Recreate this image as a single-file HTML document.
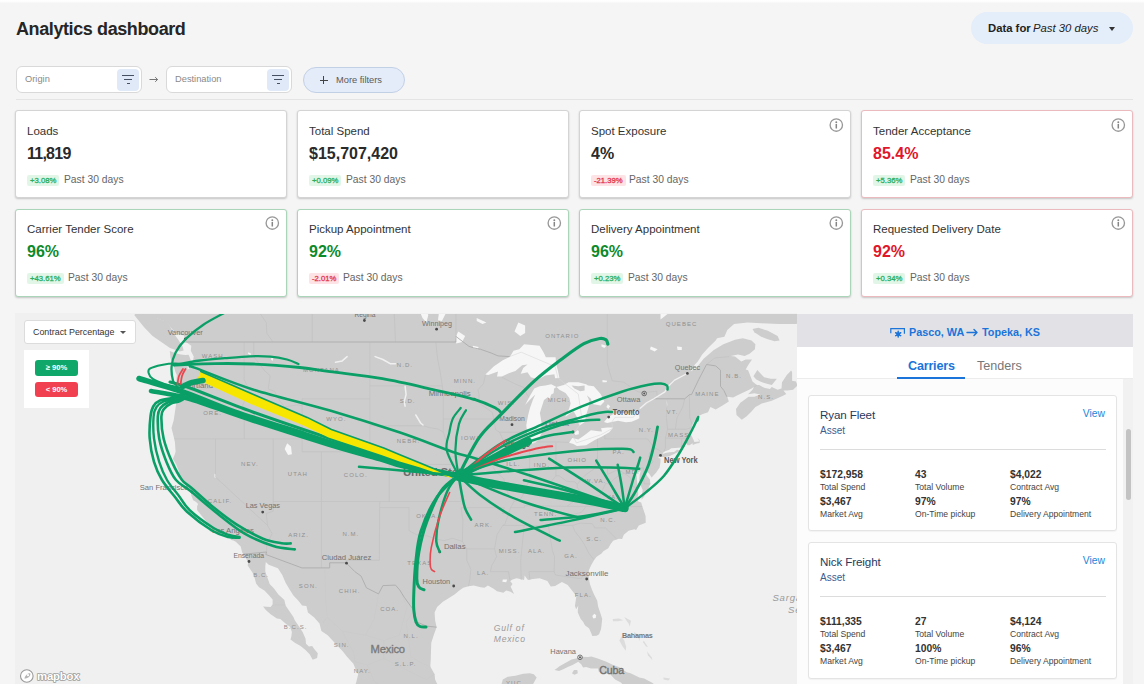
<!DOCTYPE html>
<html>
<head>
<meta charset="utf-8">
<title>Analytics dashboard</title>
<style>
*{box-sizing:border-box;margin:0;padding:0}
html,body{width:1144px;height:684px;overflow:hidden;background:#f5f5f5;font-family:"Liberation Sans",sans-serif;color:#2a2a2a}
.abs{position:absolute}
#title{left:16px;top:17px;font-size:18px;font-weight:bold;color:#262626;letter-spacing:-0.4px;line-height:24px;white-space:nowrap}
#range{left:971px;top:12px;width:162px;height:32px;border-radius:16px;background:#e4edfa;font-size:11.3px;line-height:33px;color:#222;white-space:nowrap}
#range b{position:absolute;left:17px;top:0;font-weight:bold}
#range i{position:absolute;left:62px;top:0}
#range .car{position:absolute;left:138px;top:15px;width:0;height:0;border-left:3.5px solid transparent;border-right:3.5px solid transparent;border-top:4px solid #333}
.inp{top:66px;height:27px;width:126px;background:#fff;border:1px solid #d9d9d9;border-radius:6px;font-size:9.3px;color:#8a8a8a;line-height:25px;padding-left:8px}
.inp .fb{position:absolute;right:2px;top:1.5px;width:22px;height:22px;border-radius:4px;background:#dfe9f8}
.inp .fb span{position:absolute;left:5px;height:1.4px;background:#465164}
#arrow{left:148px;top:71px;font-size:11px;color:#666;line-height:16px}
#more{left:303px;top:67px;width:102px;height:26px;border-radius:13px;background:#e4ecf9;border:1px solid #c2d0e6;font-size:9.3px;color:#5a5a5a;line-height:24px;white-space:nowrap}
#divider{left:16px;top:99px;width:1117px;height:1px;background:#e4e4e4}
.card{background:#fff;border:1px solid #d4d4d4;border-radius:3px;box-shadow:0 1px 2px rgba(0,0,0,.2);width:272px;height:88px}
.card.g{border-color:#abd5b9}
.card.r{border-color:#ebbabf}
.card .t{position:absolute;left:11px;top:13px;font-size:11.5px;line-height:14px;color:#333;white-space:nowrap}
.card .v{position:absolute;left:11px;top:33px;font-size:16px;line-height:20px;font-weight:bold;color:#2a2a2a;white-space:nowrap}
.card .v.n1{letter-spacing:-0.75px}
.card.g .v{color:#0d8a2c}
.card.r .v{color:#e0162b}
.card .b{position:absolute;left:11px;top:64px;height:11px;padding:0 3px;border-radius:2px;font-size:7.7px;line-height:11px;font-weight:normal;-webkit-text-stroke:0.3px currentColor;letter-spacing:0;white-space:nowrap}
.b.up{background:#e2f6e8;color:#2cae5c}
.b.dn{background:#fde3e5;color:#e3384a}
.card .p{position:absolute;top:62px;font-size:10.3px;line-height:14px;color:#666;white-space:nowrap}
.card.r2 .t,.card.r2 .v,.card.r2 .b,.card.r2 .p,.card.r2 .i{margin-top:-1px}
.card .i{position:absolute;right:6px;top:7px;width:15px;height:15px}

#panel{font-size:10px}
#ph{left:0;top:0;width:336px;height:33px;background:#e2e2e6}
#ph .tx{position:absolute;top:11px;font-size:10.8px;line-height:14px;font-weight:bold;color:#1b74da;white-space:nowrap}
#tabs{left:0;top:33px;width:336px;height:32px;background:#fff;border-bottom:1px solid #ececec}
#tabs .c{position:absolute;left:111px;top:11px;font-size:12.6px;line-height:16px;font-weight:bold;color:#1b74da;letter-spacing:-0.2px}
#tabs .n{position:absolute;left:180px;top:11px;font-size:12.6px;line-height:16px;color:#777}
#tabs .u{position:absolute;left:100px;top:30px;width:68px;height:2px;background:#1b74da}
#list{left:0;top:65px;width:326px;height:305px;background:#fcfcfc}
#track{left:326px;top:65px;width:10px;height:305px;background:#f1f1f1}
#thumb{left:328.5px;top:115px;width:5.5px;height:71px;border-radius:3px;background:#c3c3c3}
.cc{left:11px;width:309px;height:136px;background:#fff;border:1px solid #e4e4e4;border-radius:3px;box-shadow:0 1px 1px rgba(0,0,0,.04)}
.cc .nm{position:absolute;left:11px;top:11px;font-size:11.6px;line-height:16px;color:#243a5e;white-space:nowrap;letter-spacing:-0.1px}
.cc .as{position:absolute;left:11px;top:28px;font-size:10px;line-height:13px;color:#3d5d8f;white-space:nowrap}
.cc .vw{position:absolute;right:11px;top:11px;font-size:10.3px;line-height:14px;color:#1a86d9;white-space:nowrap}
.cc .hr{position:absolute;left:11px;right:10px;top:53px;height:1px;background:#dcdcdc}
.cc .k{position:absolute;font-size:10.3px;line-height:12px;font-weight:bold;color:#333;white-space:nowrap}
.cc .l{position:absolute;font-size:8.6px;line-height:11px;color:#444;white-space:nowrap}
</style>
</head>
<body>
<div id="topstrip" class="abs" style="left:0;top:0;width:1144px;height:3px;background:linear-gradient(#ffffff,#fdfdfd 60%,#f5f5f5)"></div>
<div id="title" class="abs">Analytics dashboard</div>
<div id="range" class="abs"><b>Data for</b><i>Past 30 days</i><span class="car"></span></div>

<div class="abs inp" style="left:16px">Origin<div class="fb"><span style="top:6px;width:12px"></span><span style="top:10px;left:7px;width:8px"></span><span style="top:14px;left:9.5px;width:3px"></span></div></div>
<svg id="arrow" class="abs" style="left:149px;top:76px" width="10" height="7" viewBox="0 0 10 7"><path d="M0.5 3.5h8M6.2 1.2l2.4 2.3-2.4 2.3" fill="none" stroke="#666" stroke-width="0.9"/></svg>
<div class="abs inp" style="left:166px">Destination<div class="fb"><span style="top:6px;width:12px"></span><span style="top:10px;left:7px;width:8px"></span><span style="top:14px;left:9.5px;width:3px"></span></div></div>
<div id="more" class="abs"><span style="position:absolute;left:15.5px;top:11.5px;width:8px;height:1.1px;background:#444"></span><span style="position:absolute;left:19px;top:8px;width:1.1px;height:8px;background:#444"></span><span style="position:absolute;left:32px">More filters</span></div>
<div id="divider" class="abs"></div>

<!-- CARDS -->
<div class="abs card" style="left:15px;top:110px"><div class="t">Loads</div><div class="v n1">11,819</div><div class="b up">+3.08%</div><div class="p" style="left:48px">Past 30 days</div></div>
<div class="abs card" style="left:297px;top:110px"><div class="t">Total Spend</div><div class="v">$15,707,420</div><div class="b up">+0.09%</div><div class="p" style="left:48px">Past 30 days</div></div>
<div class="abs card" style="left:579px;top:110px"><div class="t">Spot Exposure</div><svg class="i" viewBox="0 0 15 15"><circle cx="7.3" cy="7" r="6.2" fill="none" stroke="#989898" stroke-width="1.35"/><circle cx="7.3" cy="4.2" r="0.95" fill="#858585"/><rect x="6.55" y="6" width="1.5" height="4.5" fill="#858585"/></svg><div class="v">4%</div><div class="b dn">-21.39%</div><div class="p" style="left:49px">Past 30 days</div></div>
<div class="abs card r" style="left:861px;top:110px"><div class="t">Tender Acceptance</div><svg class="i" viewBox="0 0 15 15"><circle cx="7.3" cy="7" r="6.2" fill="none" stroke="#989898" stroke-width="1.35"/><circle cx="7.3" cy="4.2" r="0.95" fill="#858585"/><rect x="6.55" y="6" width="1.5" height="4.5" fill="#858585"/></svg><div class="v">85.4%</div><div class="b up">+5.36%</div><div class="p" style="left:48px">Past 30 days</div></div>

<div class="abs card g r2" style="left:15px;top:209px"><div class="t">Carrier Tender Score</div><svg class="i" viewBox="0 0 15 15"><circle cx="7.3" cy="7" r="6.2" fill="none" stroke="#989898" stroke-width="1.35"/><circle cx="7.3" cy="4.2" r="0.95" fill="#858585"/><rect x="6.55" y="6" width="1.5" height="4.5" fill="#858585"/></svg><div class="v">96%</div><div class="b up">+43.61%</div><div class="p" style="left:52px">Past 30 days</div></div>
<div class="abs card g r2" style="left:297px;top:209px"><div class="t">Pickup Appointment</div><svg class="i" viewBox="0 0 15 15"><circle cx="7.3" cy="7" r="6.2" fill="none" stroke="#989898" stroke-width="1.35"/><circle cx="7.3" cy="4.2" r="0.95" fill="#858585"/><rect x="6.55" y="6" width="1.5" height="4.5" fill="#858585"/></svg><div class="v">92%</div><div class="b dn">-2.01%</div><div class="p" style="left:45px">Past 30 days</div></div>
<div class="abs card g r2" style="left:579px;top:209px"><div class="t">Delivery Appointment</div><svg class="i" viewBox="0 0 15 15"><circle cx="7.3" cy="7" r="6.2" fill="none" stroke="#989898" stroke-width="1.35"/><circle cx="7.3" cy="4.2" r="0.95" fill="#858585"/><rect x="6.55" y="6" width="1.5" height="4.5" fill="#858585"/></svg><div class="v">96%</div><div class="b up">+0.23%</div><div class="p" style="left:48px">Past 30 days</div></div>
<div class="abs card r r2" style="left:861px;top:209px"><div class="t">Requested Delivery Date</div><svg class="i" viewBox="0 0 15 15"><circle cx="7.3" cy="7" r="6.2" fill="none" stroke="#989898" stroke-width="1.35"/><circle cx="7.3" cy="4.2" r="0.95" fill="#858585"/><rect x="6.55" y="6" width="1.5" height="4.5" fill="#858585"/></svg><div class="v">92%</div><div class="b up">+0.34%</div><div class="p" style="left:48px">Past 30 days</div></div>

<!-- MAP -->
<div id="map" class="abs" style="left:15px;top:313px;width:782px;height:371px;background:#f0f0f0;overflow:hidden">
<div class="abs" style="left:1px;top:1px;width:781px;height:370px">
<svg class="abs" style="left:0;top:0" width="781" height="370" viewBox="0 0 781 370">
<g fill="#cdcdcd" stroke="none">
<path d="M122.1 -17.7L125.0 -5.2L131.8 -0.6L139.5 4.0L148.2 7.0L153.1 11.6L156.9 16.1L161.8 20.6L167.6 21.3L169.0 23.5L170.0 28.0L175.3 31.7L174.8 36.8L177.7 42.6L176.8 48.3L175.8 53.1L171.4 55.8L171.9 51.2L174.3 51.9L174.8 46.2L173.4 42.6L172.6 40.7L169.5 41.1L164.7 40.4L158.9 39.0L153.8 37.1L154.5 44.0L157.9 52.6L159.3 57.6L160.8 61.1L160.3 67.5L161.1 77.9L160.1 90.2L157.7 106.3L155.5 113.9L158.2 124.8L158.9 128.0L159.6 137.7L158.9 140.3L156.9 144.8L160.3 150.4L162.7 156.7L163.7 163.0L168.1 169.2L170.0 171.6L170.5 175.3L172.9 175.9L175.3 177.5L175.8 176.5L177.2 174.7L177.2 177.8L178.7 181.4L176.3 180.2L175.3 178.8L175.3 181.4L177.2 186.3L180.1 188.0L182.1 189.9L181.1 192.3L181.1 196.0L187.2 203.7L192.2 209.7L193.2 216.1L195.0 217.9L202.4 218.5L207.0 221.4L211.1 222.8L214.0 223.2L215.0 226.1L217.4 226.4L219.8 227.8L224.7 232.5L226.1 238.2L227.4 240.5L232.2 248.0L231.7 251.4L237.2 259.8L238.7 264.3L240.1 269.4L243.0 273.3L248.4 276.6L252.7 281.0L256.6 285.5L256.6 290.4L254.6 293.1L247.1 292.6L249.8 295.9L254.6 300.2L260.9 304.6L264.3 305.1L270.1 310.0L274.0 312.7L275.9 318.0L275.4 322.3L274.5 325.5L278.8 328.7L284.6 331.9L289.5 336.1L293.8 340.4L296.7 345.8L301.1 344.0L301.8 339.3L298.2 335.1L296.2 331.9L292.9 332.4L290.0 329.8L289.5 324.4L286.6 318.0L283.2 312.7L278.8 306.2L277.4 302.9L274.0 298.0L269.6 291.5L268.4 286.0L262.4 280.5L258.0 274.4L253.7 269.9L251.3 263.2L249.3 257.6L249.3 251.9L249.8 248.0L252.7 250.8L261.9 254.2L266.3 261.0L269.6 268.8L273.0 274.4L277.4 281.6L282.2 286.6L286.1 291.5L290.4 292.0L291.9 298.6L298.2 303.5L303.5 309.4L305.4 317.0L311.7 321.2L316.1 326.0L320.4 330.8L326.7 337.2L330.8 342.5L337.4 349.8L340.3 357.1L342.2 360.2L340.3 368.0L338.8 372.7L344.6 380.9L428.8 380.9L426.4 375.8L421.5 370.6L419.1 365.4L418.6 360.2L414.3 352.4L414.8 344.6L415.0 336.7L415.3 328.7L417.7 321.2L420.6 313.2L419.1 306.2L418.6 298.6L421.1 293.1L426.9 287.7L432.2 284.4L438.5 280.5L443.3 276.6L447.2 273.8L452.5 272.2L457.8 271.6L464.6 273.3L468.5 273.8L471.9 271.6L477.2 274.4L481.0 277.2L487.3 278.8L490.2 276.6L494.6 277.7L498.0 279.9L496.5 276.6L494.6 272.7L496.5 269.9L494.1 267.1L496.5 265.5L500.4 264.3L504.3 264.9L508.1 266.0L508.6 261.5L510.6 264.3L512.0 266.0L516.8 264.9L523.6 264.3L531.4 267.1L534.7 272.4L539.1 271.9L545.9 268.0L551.7 271.1L556.0 276.6L560.4 282.1L559.4 288.8L558.9 292.0L560.2 295.3L562.3 291.5L561.8 295.9L561.8 298.6L564.7 305.1L567.1 307.8L569.1 311.6L573.0 314.3L575.4 319.6L576.3 322.0L580.7 321.8L583.1 320.2L585.0 315.3L585.5 311.6L586.2 305.1L584.6 299.7L582.1 292.6L581.2 286.6L578.3 281.0L576.3 276.6L573.9 269.9L573.0 264.9L572.5 260.4L573.0 255.9L575.4 250.8L578.3 245.7L580.7 242.8L585.5 239.4L587.3 237.3L592.3 234.2L594.2 230.7L597.1 226.7L602.9 224.7L606.1 224.9L607.8 220.8L612.6 216.7L618.4 215.2L620.1 216.1L622.8 211.4L629.7 208.7L629.6 201.9L626.5 192.9L625.2 188.4L622.3 187.5L621.3 184.5L622.3 180.2L621.8 175.3L621.3 170.4L620.8 163.6L620.4 159.8L624.7 156.7L623.7 160.5L623.3 165.4L624.7 171.6L626.7 175.9L625.7 181.4L625.5 185.7L628.1 182.7L631.5 176.5L634.4 169.8L633.9 165.4L631.0 161.7L629.6 157.3L632.9 159.2L635.6 163.6L640.2 158.6L643.6 153.6L644.5 147.9L644.5 144.5L642.1 144.1L644.4 141.5L645.0 143.1L648.4 143.1L653.3 142.2L659.1 139.6L665.3 136.8L661.0 135.8L658.1 138.1L653.3 138.3L649.4 139.0L646.5 140.0L647.9 137.7L653.3 135.8L655.2 134.2L662.9 133.8L668.7 133.2L669.7 128.7L671.6 131.3L673.6 131.3L676.5 129.3L676.8 131.0L680.3 129.6L683.7 129.1L683.5 126.1L681.3 123.7L682.5 125.4L683.2 127.4L678.4 128.0L677.4 125.4L675.5 121.5L673.6 120.2L675.5 117.6L677.4 116.3L675.5 114.3L676.5 110.3L679.9 105.0L680.8 103.0L686.2 100.3L692.0 98.3L694.4 92.9L699.7 95.6L706.5 91.6L712.8 87.5L711.3 82.7L717.1 83.4L721.5 81.3L731.6 76.5L735.5 74.4L737.9 73.0L736.5 75.8L732.1 80.2L738.4 79.3L744.2 80.6L738.4 82.7L732.6 82.7L724.4 88.8L720.0 94.9L720.5 101.0L725.8 105.7L730.7 102.3L735.5 97.6L739.4 92.9L742.3 91.6L745.7 89.5L755.8 86.8L766.5 82.0L770.3 80.0L767.4 76.5L771.3 76.5L777.1 75.8L781.5 71.6L780.0 67.5L776.1 66.8L776.1 58.3L775.2 56.5L770.8 61.1L766.0 68.2L765.5 74.4L761.6 75.8L755.8 73.0L753.9 75.1L748.1 73.7L743.2 71.0L740.8 71.0L736.5 67.5L734.0 61.1L732.1 56.2L729.7 55.5L732.1 51.2L736.0 45.5L729.7 45.5L725.3 47.6L719.0 42.6L714.7 41.9L721.9 40.4L728.7 41.9L733.6 39.7L738.9 35.3L739.4 30.2L735.5 26.5L726.8 24.3L719.0 25.8L707.4 30.2L697.8 36.0L687.6 44.7L680.3 54.1L672.1 59.0L674.1 58.3L678.9 50.5L681.8 47.6L686.2 40.4L692.0 33.9L699.7 26.5L701.1 24.3L708.4 22.8L711.3 16.1L718.1 10.1L731.6 8.5L745.2 9.3L762.6 10.1L780.0 10.1L789.7 5.5L789.7 -17.7Z"/>
<path d="M118.2 0.9L123.1 7.0L127.9 13.1L136.6 22.1L145.3 28.0L154.0 33.9L163.7 37.5L167.6 36.5L166.6 32.4L161.8 25.0L157.9 19.8L154.0 12.3L149.2 7.0L140.5 4.0L132.7 -0.6L126.0 -5.2Z"/>
<path d="M736.5 15.0L742.3 13.8L751.9 16.8L761.6 22.1L763.6 26.5L758.7 27.2L751.0 25.0L745.2 22.8L738.4 18.3Z"/>
<path d="M737.4 62.3L741.3 56.0L748.1 63.3L754.8 64.7L760.9 64.7L755.8 71.0L750.0 69.6L744.2 67.5L740.3 65.4Z"/>
<path d="M538.6 356.1L543.9 351.9L555.5 345.6L562.3 344.0L566.2 342.8L572.0 343.0L575.4 342.5L581.7 344.6L590.4 347.7L597.1 350.9L602.9 352.9L610.7 358.2L614.6 359.2L623.3 363.4L628.1 364.4L635.8 368.5L641.6 372.7L643.1 374.7L639.7 380.9L605.8 380.9L606.8 370.6L604.9 368.5L599.1 365.4L594.2 360.2L588.4 359.2L582.6 357.6L582.1 354.5L574.9 354.5L570.1 352.9L567.1 353.5L565.2 350.3L562.3 347.7L556.5 350.9L551.7 352.9L547.8 355.0L543.0 357.1Z"/>
<path d="M558.0 356.1L561.3 356.1L561.8 359.2L558.4 360.8L556.0 359.2Z"/>
<path d="M483.0 380.9L485.4 370.6L486.8 365.4L491.7 362.8L499.4 361.8L507.2 359.7L513.9 359.2L517.8 360.2L520.7 363.4L516.8 370.6L513.9 380.9Z"/>
</g>
<g fill="#dcdcdc" stroke="none">
<path d="M605.4 322.3L608.3 326.6L610.2 333.0L609.7 336.7L606.3 331.9L603.4 326.6Z"/>
<path d="M596.7 305.1L602.9 304.6L607.3 306.2L602.0 307.3L597.1 307.3Z"/>
<path d="M608.3 302.9L615.0 306.7L613.6 312.7L612.6 309.4L610.2 306.2Z"/>
<path d="M618.4 318.0L623.7 322.3L623.7 327.1L622.3 323.4L617.9 319.6Z"/>
<path d="M627.6 326.6L632.0 333.0L630.0 332.4L627.1 328.2Z"/>
<path d="M631.0 337.2L635.8 343.5L636.3 346.1L632.0 341.4Z"/>
<path d="M647.5 363.4L654.2 364.4L652.3 366.5L647.5 365.4Z"/>
</g>
<g fill="#f6f6f6" stroke="none">
<path d="M469.4 60.4L477.7 52.6L486.8 46.2L494.1 42.6L497.5 36.8L503.3 35.3L508.1 30.2L515.9 30.9L523.6 31.7L527.5 38.2L529.9 43.3L539.6 43.3L540.1 49.8L542.0 56.9L543.4 64.0L539.1 64.2L538.4 60.2L529.4 61.6L522.2 65.4L514.9 63.3L511.5 58.3L504.7 59.7L507.2 54.1L511.5 50.5L506.2 51.2L499.4 56.9L491.7 59.7L485.9 62.5L481.0 62.5L482.0 57.6L472.3 61.1Z"/>
<path d="M515.9 129.7L513.0 126.1L511.0 118.2L510.3 111.0L512.0 101.7L513.9 94.3L516.8 86.1L519.3 80.6L514.9 84.8L509.1 90.9L513.0 83.4L518.3 74.4L523.6 72.3L529.4 71.6L535.2 70.3L540.5 73.0L538.1 74.4L537.6 79.3L535.2 80.6L532.8 87.5L532.3 82.7L528.0 86.1L525.1 94.9L523.9 99.0L525.5 108.3L525.5 119.6L522.6 125.4L519.7 128.4Z"/>
<path d="M540.5 73.0L547.8 71.0L552.6 68.2L562.3 68.2L570.1 70.3L572.0 71.6L577.8 72.3L584.6 80.0L588.4 87.5L584.6 91.6L577.5 90.2L575.9 88.2L574.9 84.8L570.8 81.3L572.5 84.8L573.9 89.5L573.1 91.6L569.9 101.7L569.1 107.7L563.3 111.7L561.3 103.7L557.8 97.4L554.6 99.0L549.3 103.0L551.2 98.3L553.1 94.7L554.6 89.5L553.3 83.9L549.5 79.0L543.4 75.8Z"/>
<path d="M553.1 128.7L556.3 124.1L562.3 125.4L568.1 121.5L574.9 116.3L582.6 117.2L586.0 117.6L585.0 114.3L591.3 113.6L597.1 113.4L593.3 118.2L585.5 122.8L578.8 126.1L570.1 131.3L560.9 131.9L557.5 130.0Z"/>
<path d="M561.3 116.3L562.8 116.9L562.8 120.2L559.4 120.9L558.4 118.9Z"/>
<path d="M588.0 107.9L592.3 103.0L597.1 100.3L604.4 99.0L610.7 99.0L615.5 99.7L620.4 95.6L623.3 99.0L623.3 104.3L620.4 105.7L615.5 107.7L609.7 108.3L602.0 106.7L595.7 108.1L591.3 109.0Z"/>
<path d="M502.3 8.5L509.1 11.6L509.1 19.1L504.3 22.1L498.5 17.6Z"/>
<path d="M442.3 17.6L449.1 22.1L446.2 28.0L440.4 29.4L439.4 23.5Z"/>
<path d="M419.1 -17.7L428.8 -17.7L429.8 -0.6L425.9 7.0L422.0 6.3L423.0 -2.1L419.1 -9.9Z"/>
<path d="M399.8 -17.7L406.5 -9.9L412.3 0.9L410.4 8.5L406.5 4.0L402.7 -5.2Z"/>
<path d="M271.1 129.3L275.0 132.6L275.9 140.3L272.1 140.9L268.7 135.1Z"/>
<path d="M578.3 299.7L580.2 301.3L579.7 304.0L577.3 304.6L576.3 301.9Z"/>
<path d="M650.8 84.8L651.3 90.2L650.4 98.3L650.5 102.3L650.8 94.3L650.2 88.8Z"/>
<path d="M661.0 32.4L665.8 33.1L665.8 36.0L661.5 36.0Z"/>
<path d="M586.5 66.1L591.3 66.8L590.4 68.2L586.5 68.2Z"/>
<path d="M591.8 90.2L594.2 92.2L592.3 94.9L590.4 92.9Z"/>
<path d="M198.5 159.8L200.0 160.5L200.0 163.6L198.5 163.6Z"/>
<path d="M456.9 31.7L462.7 33.1L461.7 35.3L456.9 33.9Z"/>
<path d="M649.4 -6.8L652.3 -0.6L644.5 5.5L644.5 -0.6Z"/>
<path d="M693.9 -11.4L699.7 -6.8L696.8 -2.1L692.0 -6.8Z"/>
<path d="M634.9 32.4L641.6 35.3L638.7 37.5L633.9 35.3Z"/>
<path d="M585.5 30.2L590.4 31.7L588.4 33.9L585.5 32.4Z"/>
<path d="M475.2 -6.8L484.9 -2.1L481.0 -0.6L475.2 -3.7Z"/>
<path d="M460.7 4.0L470.4 8.5L466.5 10.1L460.7 7.0Z"/>
<path d="M486.8 265.5L491.2 265.5L490.2 268.3L486.4 267.7Z"/>
<path d="M255.6 41.9L257.5 43.3L256.6 46.9L255.1 45.5Z"/>
<path d="M232.4 38.2L235.3 39.7L234.3 41.1L231.9 39.7Z"/>
</g>
<path d="M555.5 71.6L562.3 72.3L568.6 71.6L568.6 76.5L564.2 77.2L558.4 74.4Z" fill="#cdcdcd"/>
<g fill="none" stroke="#bfbfbf" stroke-width="0.6" stroke-linejoin="round">
<path d="M160.8 67.5L168.5 68.9L172.4 76.5L187.9 75.1L203.4 72.3L209.4 71.0L229.3 71.0"/>
<path d="M158.4 124.8L286.1 124.8"/>
<path d="M228.1 28.0L228.1 65.4L233.4 76.5L226.6 91.6L229.5 96.3L228.2 101.0L228.2 124.8"/>
<path d="M237.7 28.0L237.7 42.6L241.1 46.9L248.8 56.9L254.2 61.8L252.2 75.1L258.5 77.2L264.3 87.5L268.7 92.9L281.7 90.9L286.1 91.6"/>
<path d="M286.1 84.8L286.1 137.7"/>
<path d="M286.1 84.8L353.8 84.8"/>
<path d="M353.8 28.0L353.8 137.7"/>
<path d="M286.1 137.7L373.2 137.7"/>
<path d="M257.2 124.8L257.2 187.5L257.2 197.2L250.3 199.5L251.5 211.4L256.1 219.7L250.8 230.1L250.6 238.0"/>
<path d="M257.2 187.5L445.1 187.5"/>
<path d="M305.4 137.7L305.4 253.9"/>
<path d="M373.2 137.7L373.2 187.5"/>
<path d="M199.5 124.8L199.5 163.0L251.5 211.4"/>
<path d="M329.1 246.2L363.4 246.2L363.6 193.6L364.0 187.5"/>
<path d="M364.0 193.6L393.0 193.6L393.0 216.6L400.7 220.8L411.4 222.0L420.1 224.9L427.8 226.7L436.5 224.3L446.4 227.4"/>
<path d="M445.1 193.6L446.9 206.7L446.4 227.4L450.7 234.8L450.7 246.2L454.9 255.3L453.8 265.5L452.5 272.2"/>
<path d="M450.7 234.8L478.6 234.8"/>
<path d="M445.1 193.6L488.3 193.6L486.2 199.5L492.7 199.5"/>
<path d="M438.5 150.4L445.2 161.7L445.1 187.5"/>
<path d="M373.2 150.4L438.5 150.4"/>
<path d="M353.8 111.7L407.5 111.7L413.3 113.6L422.0 115.0L427.3 118.2L431.7 131.3L433.0 137.7L434.1 142.8L438.5 150.4"/>
<path d="M353.8 71.8L426.3 71.8"/>
<path d="M419.8 28.0L421.5 44.0L424.2 58.3L426.3 71.8L427.3 80.6L427.3 105.0L427.3 118.2"/>
<path d="M427.3 105.0L477.9 105.0"/>
<path d="M477.9 105.0L476.2 98.3L465.6 90.9L462.7 88.2L463.1 80.6L461.9 75.8L467.5 69.6L469.4 61.1"/>
<path d="M434.1 142.8L475.7 142.8"/>
<path d="M477.9 105.0L479.6 115.6L483.5 118.2L487.8 127.4L480.6 131.9L476.2 142.8L476.2 151.7L480.1 158.0L487.8 164.8L490.7 176.5L494.6 183.9L498.0 187.5L494.6 193.6L492.7 199.5L488.8 210.3L486.8 211.4L481.0 220.8L478.6 234.8L480.6 242.8L475.7 251.9L474.3 257.6"/>
<path d="M483.5 118.2L511.0 118.2"/>
<path d="M485.9 63.3L498.5 69.6L508.1 73.7L510.6 80.0L513.0 83.4"/>
<path d="M513.6 128.0L513.6 159.2L513.9 166.7L509.6 172.9L508.6 177.8"/>
<path d="M539.9 128.7L539.9 161.7"/>
<path d="M516.8 127.9L539.9 127.9L553.1 128.4"/>
<path d="M498.0 187.5L504.7 185.1L508.6 177.8L517.8 177.8L528.4 175.3L530.9 172.2L536.2 166.1L539.9 161.7L543.0 161.7L550.7 167.3L558.9 167.9L561.3 170.4L565.7 164.2L571.0 159.8L578.1 154.8L580.7 146.6L581.5 142.3"/>
<path d="M581.5 142.3L581.5 124.8"/>
<path d="M581.5 153.9L581.5 142.3"/>
<path d="M588.8 121.3L588.8 124.8L631.5 124.8L637.8 133.2L633.9 138.3L632.9 142.8L637.3 147.9L631.0 152.9"/>
<path d="M581.5 153.9L627.3 153.9L628.1 169.8L634.4 169.8"/>
<path d="M591.5 153.9L591.5 160.5L602.0 155.5L608.3 159.2L615.0 164.2L615.5 171.6L622.3 175.3"/>
<path d="M608.3 159.2L602.5 161.7L597.6 165.4L593.3 170.4L589.9 169.2L586.5 175.9L583.6 181.4L574.9 183.9L570.1 185.1L567.1 180.8L561.3 173.5L561.3 170.4"/>
<path d="M567.1 180.8L550.9 192.3"/>
<path d="M494.6 193.6L508.4 193.6L508.4 191.7L550.9 192.3L626.2 192.6"/>
<path d="M570.1 192.6L565.2 198.4L558.4 200.1L551.7 204.9L544.7 211.4"/>
<path d="M486.8 211.4L556.5 211.4L564.2 209.1L576.3 209.7L578.8 213.8L589.4 213.8L600.5 224.9"/>
<path d="M556.5 211.4L558.9 217.3L565.2 225.5L568.1 230.1L573.0 239.4L577.8 245.7"/>
<path d="M532.3 211.4L536.4 236.5L538.6 242.8L538.1 257.6L539.5 261.0L565.2 264.8L567.1 261.0L572.5 261.0"/>
<path d="M538.1 257.6L513.0 257.6L513.9 265.7"/>
<path d="M507.2 211.4L508.1 212.6L504.7 246.2L505.2 266.0"/>
<path d="M474.3 257.6L492.4 257.6L494.1 266.6"/>
<path d="M650.8 84.8L650.4 103.7L651.6 115.0L649.4 124.1L649.4 133.8L647.9 137.7"/>
<path d="M668.7 84.8L666.8 92.9L661.0 103.7L659.4 115.2"/>
<path d="M651.6 115.2L670.7 115.2L675.3 113.4"/>
<path d="M649.4 124.1L669.9 124.4L672.1 130.0"/>
<path d="M665.8 124.5L665.4 133.6"/>
<path d="M676.2 110.6L673.8 103.7L673.3 80.6"/>
<path d="M637.8 133.2L645.5 137.7"/>
<path d="M256.9 28.0L250.8 19.1L250.3 8.5L244.0 -0.6L233.4 -17.7"/>
<path d="M296.2 28.0L296.2 -17.7"/>
<path d="M379.5 28.0L377.5 -17.7"/>
<path d="M439.9 22.4L439.9 -17.7"/>
<path d="M591.3 -17.7L591.3 49.8L596.2 66.8L607.8 68.2L613.6 72.3L622.3 77.9L628.1 78.6L640.7 77.2L641.2 82.0"/>
<path d="M713.2 42.6L698.7 44.0L690.5 50.5"/>
<path d="M740.8 71.0L738.4 73.0"/>
</g>
<g fill="none" stroke="#c9c9c9" stroke-width="0.5">
<path d="M256.6 290.9L269.4 290.9"/>
<path d="M308.8 253.9L309.8 287.7L311.2 302.9L306.9 309.4"/>
<path d="M311.2 302.9L326.2 317.0L337.9 339.3L338.8 347.7"/>
<path d="M362.5 279.9L358.2 305.1L349.5 321.2L326.2 317.0"/>
<path d="M383.8 276.1L391.1 293.1L383.3 321.2L367.8 326.6L349.5 321.2"/>
<path d="M397.8 296.4L390.1 308.3L393.0 327.6L394.9 342.5L406.5 349.8L414.3 352.4"/>
<path d="M367.8 326.6L367.8 344.6L383.3 351.9L402.7 362.3L410.4 365.4L418.6 360.2"/>
<path d="M367.8 344.6L351.4 350.9L338.8 347.7"/>
<path d="M351.4 350.9L358.2 367.5L370.7 375.8"/>
</g>
<g fill="none" stroke="#d8d8d8" stroke-width="0.6">
<path d="M493.6 42.6L505.2 38.2L539.1 52.6L542.0 64.0L548.8 69.6L562.3 80.0L565.7 103.7L563.3 111.7L556.5 120.9L560.4 128.9L584.6 120.9L596.7 114.3L595.7 108.1L599.1 103.3L617.5 103.3L621.3 97.0L637.8 84.8"/>
</g>
<g fill="none" stroke="#adadad" stroke-width="0.9" stroke-linejoin="round">
<path d="M167.6 28.0L439.9 28.0L439.9 22.4L453.0 32.4L457.8 33.9L464.6 35.3L475.2 39.0L482.0 41.9L493.6 42.6"/>
<path d="M637.8 84.8L668.7 84.8L673.6 80.6L675.5 80.6L682.8 65.4L690.5 50.5L699.7 51.9L704.5 56.2L704.5 72.3L707.9 76.5L710.8 82.7"/>
<path d="M227.4 240.2L250.6 238.0L249.8 240.5L285.9 253.9L313.7 253.9L313.7 248.8L330.1 248.8L338.8 257.6L345.1 262.1L350.4 273.8L362.5 279.9L366.9 271.6L379.5 271.1L383.8 276.1L388.2 283.2L397.8 296.4L401.7 308.3L410.4 312.1L420.6 313.2"/>
</g>
<g fill="none" stroke="#f0f0f0" stroke-linecap="round" stroke-linejoin="round">
<path d="M672.1 59.0L658.6 66.1L652.3 72.3L648.9 77.9L644.5 80.6L637.8 84.8L630.5 88.8L624.2 94.3" stroke-width="1.3"/>
<path d="M359.1 42.6L366.9 45.5L374.6 49.8L379.5 49.8" stroke-width="1.5"/>
<path d="M389.1 72.3L390.1 80.6L388.2 87.5L389.1 92.2" stroke-width="1.5"/>
<path d="M399.8 101.0L404.6 109.0L407.0 111.0" stroke-width="1.5"/>
<path d="M331.1 42.6L326.2 46.9L319.5 48.3" stroke-width="1.5"/>
</g>
<g font-family="Liberation Sans, sans-serif">
<g font-size="6" fill="#909090" text-anchor="middle" letter-spacing="1.05">
<text x="198.1" y="44.2">WASH.</text>
<text x="305.4" y="58.2">MONTANA</text>
<text x="196.6" y="101.2">ORE.</text>
<text x="320.3" y="106.7">WYO.</text>
<text x="233.9" y="152.2">NEV.</text>
<text x="281.8" y="162.2">UTAH</text>
<text x="339.8" y="163.2">COLO.</text>
<text x="204.0" y="189.2">CALIF.</text>
<text x="282.6" y="222.9">ARIZ.</text>
<text x="334.9" y="222.2">N.M.</text>
<text x="245.1" y="262.6">B.C.</text>
<text x="292.3" y="273.8">SON.</text>
<text x="333.6" y="279.2">CHIH.</text>
<text x="279.6" y="315.2">B.C.S.</text>
<text x="325.6" y="332.5">SIN.</text>
<text x="373.6" y="297.2">COA.</text>
<text x="346.3" y="358.8">NAY.</text>
<text x="546.3" y="23.7">ONTARIO</text>
<text x="665.6" y="11.5">QUEBEC</text>
<text x="448.9" y="68.6">MINN.</text>
<text x="388.9" y="53.2">N.D.</text>
<text x="391.6" y="89.2">S.D.</text>
<text x="490.4" y="90.5">WIS.</text>
<text x="542.8" y="87.9">MICH.</text>
<text x="455.1" y="126.2">IOWA</text>
<text x="392.5" y="129.2">NEBR.</text>
<text x="497.4" y="151.7">ILL.</text>
<text x="525.8" y="153.4">IND.</text>
<text x="561.2" y="147.6">OHIO</text>
<text x="602.6" y="139.7">PA.</text>
<text x="630.2" y="117.6">N.Y.</text>
<text x="656.5" y="100.2">VT.</text>
<text x="691.4" y="82.1">MAINE</text>
<text x="664.0" y="123.0">MASS.</text>
<text x="718.0" y="64.4">N.B.</text>
<text x="750.0" y="84.5">N.S.</text>
<text x="579.6" y="169.2">W.VA.</text>
<text x="616.6" y="160.2">MD.</text>
<text x="596.6" y="185.2">VA.</text>
<text x="529.6" y="202.2">TENN.</text>
<text x="592.3" y="207.6">N.C.</text>
<text x="578.1" y="226.7">S.C.</text>
<text x="555.1" y="244.4">GA.</text>
<text x="520.6" y="239.2">ALA.</text>
<text x="493.6" y="239.2">MISS.</text>
<text x="467.6" y="213.0">ARK.</text>
<text x="467.1" y="261.0">LA.</text>
<text x="567.3" y="282.7">FLA.</text>
<text x="411.6" y="204.2">OKLA.</text>
<text x="403.8" y="250.6">TEXAS</text>
<text x="540.6" y="181.2">KY.</text>
<text x="395.0" y="323.6">N.L.</text>
<text x="389.6" y="351.6">S.L.P.</text>
<text x="499.3" y="370.5">YUC.</text>
</g>
<text x="477.7" y="317.0" font-size="8.6" font-style="italic" fill="#9a9a9a" letter-spacing="0.8">Gulf of</text>
<text x="477.7" y="328.0" font-size="8.6" font-style="italic" fill="#9a9a9a" letter-spacing="0.8">Mexico</text>
<text x="756.4" y="286.6" font-size="9.6" font-style="italic" fill="#9a9a9a" letter-spacing="0.8">Sargasso</text>
<text x="772.0" y="299.0" font-size="9.6" font-style="italic" fill="#9a9a9a" letter-spacing="0.8">Sea</text>
<text x="387.0" y="162.0" font-size="11.5" font-weight="bold" fill="#6a6a6a" letter-spacing="-0.2">United States</text>
<text x="354.6" y="338.6" font-size="11.2" stroke="#7a7a7a" stroke-width="0.35" fill="#7a7a7a" letter-spacing="-0.2">Mexico</text>
<text x="583.3" y="359.6" font-size="10.6" stroke="#727272" stroke-width="0.35" fill="#727272" letter-spacing="-0.2">Cuba</text>
<text x="606.0" y="324.0" font-size="7.2" font-weight="bold" fill="#777" letter-spacing="-0.2">Bahamas</text>
<text x="151.7" y="20.6" font-size="8.1" textLength="35.1" lengthAdjust="spacingAndGlyphs" fill="#727272">Vancouver</text>
<circle cx="169.3" cy="25.0" r="1.4" fill="#4a4a4a"/>
<text x="338.5" y="2.6" font-size="8.1" textLength="21.0" lengthAdjust="spacingAndGlyphs" fill="#727272">Regina</text>
<circle cx="348.4" cy="6.5" r="1.4" fill="#4a4a4a"/>
<text x="406.1" y="11.6" font-size="8.1" textLength="29.8" lengthAdjust="spacingAndGlyphs" fill="#727272">Winnipeg</text>
<circle cx="420.6" cy="15.2" r="1.4" fill="#4a4a4a"/>
<text x="412.8" y="82.4" font-size="8.1" textLength="41.9" lengthAdjust="spacingAndGlyphs" fill="#727272">Minneapolis</text>
<circle cx="458.2" cy="85.1" r="1.4" fill="#4a4a4a"/>
<text x="483.3" y="107.4" font-size="8.1" textLength="25.4" lengthAdjust="spacingAndGlyphs" fill="#727272">Madison</text>
<circle cx="496.0" cy="110.7" r="1.4" fill="#4a4a4a"/>
<text x="487.0" y="132.6" font-size="8.6" font-weight="bold" textLength="27.0" lengthAdjust="spacingAndGlyphs" fill="#5a5a5a">Chicago</text>
<text x="529.0" y="112.1" font-size="8.1" textLength="24.0" lengthAdjust="spacingAndGlyphs" fill="#727272">Detroit</text>
<circle cx="557.0" cy="118.0" r="1.4" fill="#4a4a4a"/>
<text x="596.8" y="100.7" font-size="8.6" font-weight="bold" textLength="26.5" lengthAdjust="spacingAndGlyphs" fill="#5a5a5a">Toronto</text>
<circle cx="592.7" cy="103.1" r="1.4" fill="#4a4a4a"/>
<text x="600.8" y="87.6" font-size="8.1" textLength="23.6" lengthAdjust="spacingAndGlyphs" fill="#727272">Ottawa</text>
<circle cx="628.2" cy="79.5" r="2.3" fill="none" stroke="#555" stroke-width="0.8"/><circle cx="628.2" cy="79.5" r="1" fill="#555"/>
<text x="658.8" y="56.1" font-size="8.1" textLength="25.2" lengthAdjust="spacingAndGlyphs" fill="#727272">Quebec</text>
<circle cx="671.4" cy="59.4" r="1.4" fill="#4a4a4a"/>
<text x="648.0" y="149.3" font-size="8.6" font-weight="bold" textLength="33.7" lengthAdjust="spacingAndGlyphs" fill="#5a5a5a">New York</text>
<circle cx="644.5" cy="141.4" r="1.4" fill="#4a4a4a"/>
<text x="123.8" y="175.9" font-size="8.1" textLength="48.5" lengthAdjust="spacingAndGlyphs" fill="#727272">San Francisco</text>
<circle cx="176.0" cy="178.0" r="1.4" fill="#4a4a4a"/>
<text x="195.9" y="219.0" font-size="8.1" textLength="41.9" lengthAdjust="spacingAndGlyphs" fill="#727272">Los Angeles</text>
<circle cx="216.4" cy="223.1" r="1.4" fill="#4a4a4a"/>
<text x="229.7" y="193.7" font-size="8.1" textLength="34.3" lengthAdjust="spacingAndGlyphs" fill="#727272">Las Vegas</text>
<circle cx="246.7" cy="198.1" r="1.4" fill="#4a4a4a"/>
<text x="217.4" y="244.3" font-size="8.1" textLength="30.6" lengthAdjust="spacingAndGlyphs" fill="#727272">Ensenada</text>
<circle cx="233.0" cy="247.5" r="1.4" fill="#4a4a4a"/>
<text x="305.7" y="245.6" font-size="8.1" textLength="49.6" lengthAdjust="spacingAndGlyphs" fill="#727272">Ciudad Juárez</text>
<circle cx="330.5" cy="249.2" r="1.4" fill="#4a4a4a"/>
<text x="427.9" y="235.1" font-size="8.1" textLength="21.7" lengthAdjust="spacingAndGlyphs" fill="#727272">Dallas</text>
<circle cx="423.8" cy="237.9" r="1.4" fill="#4a4a4a"/>
<text x="406.6" y="269.5" font-size="8.1" textLength="27.6" lengthAdjust="spacingAndGlyphs" fill="#727272">Houston</text>
<circle cx="437.7" cy="272.0" r="1.4" fill="#4a4a4a"/>
<text x="549.4" y="262.4" font-size="8.1" textLength="43.0" lengthAdjust="spacingAndGlyphs" fill="#727272">Jacksonville</text>
<circle cx="570.7" cy="265.0" r="1.4" fill="#4a4a4a"/>
<text x="534.3" y="340.1" font-size="8.1" textLength="25.6" lengthAdjust="spacingAndGlyphs" fill="#727272">Havana</text>
<circle cx="564.0" cy="343.3" r="2.3" fill="none" stroke="#555" stroke-width="0.8"/><circle cx="564.0" cy="343.3" r="1" fill="#555"/>
<text x="168.0" y="74.4" font-size="8.1" textLength="29.0" lengthAdjust="spacingAndGlyphs" fill="#727272">Portland</text>
</g>
<g fill="none" stroke-linecap="round" stroke-linejoin="round">
<path d="M210.0 -2.0C206.3 0.1 194.3 6.1 187.7 10.5C181.0 14.9 174.8 19.9 170.1 24.6C165.4 29.3 162.0 33.9 159.6 38.6C157.2 43.3 156.0 47.9 155.6 52.6C155.2 57.3 156.2 63.6 157.0 66.7C157.8 69.8 159.9 70.3 160.5 71.0" stroke="#0a9f66" stroke-width="2.3"/>
<path d="M174.5 50.9C171.9 50.7 163.8 49.5 159.0 49.5C154.2 49.5 149.7 50.1 145.6 50.9C141.5 51.7 136.4 53.1 134.2 54.4C132.0 55.7 132.1 57.1 132.5 58.8C132.9 60.6 134.1 63.0 136.8 64.9C139.6 66.8 144.3 68.7 149.0 70.2C153.7 71.7 162.3 73.1 165.0 73.7" stroke="#0a9f66" stroke-width="2.0"/>
<path d="M158.0 51.0C162.3 50.2 175.6 47.6 184.0 46.5C192.4 45.4 200.4 44.9 208.7 44.2C217.0 43.5 226.4 42.6 234.0 42.3C241.6 42.0 248.2 42.1 254.4 42.6C260.6 43.1 266.3 44.3 271.0 45.5C275.7 46.7 280.5 49.2 282.4 50.0" stroke="#0a9f66" stroke-width="2.3"/>
<path d="M158.0 51.0C164.8 50.8 185.9 49.8 199.0 49.6C212.1 49.4 222.6 49.4 236.8 50.0C251.0 50.6 271.1 52.2 284.0 53.5C296.9 54.8 300.3 55.8 314.0 57.7C327.7 59.6 348.9 61.6 366.4 64.7C383.9 67.7 403.4 72.5 418.9 76.0C434.3 79.5 448.9 82.6 459.1 85.7C469.3 88.8 475.9 92.3 480.1 94.4C484.3 96.4 483.8 97.4 484.5 98.0" stroke="#0a9f66" stroke-width="2.8"/>
<path d="M174.0 52.5C175.1 52.8 170.2 50.6 180.7 54.4C191.2 58.2 214.6 68.4 236.8 75.4C259.0 82.4 289.5 89.3 314.0 96.5C338.5 103.7 363.5 111.7 384.0 118.6C404.5 125.5 424.2 133.7 436.8 138.0C449.4 142.3 446.7 140.6 459.6 144.5C472.5 148.4 492.8 154.6 514.0 161.6C535.2 168.6 571.0 181.0 586.8 186.4C602.6 191.8 605.1 192.9 608.7 194.2" stroke="#0a9f66" stroke-width="2.6"/>
<path d="M123.0 64.5C130.8 66.9 154.0 73.4 170.0 79.0C186.0 84.6 199.2 91.1 219.0 98.0C238.8 104.9 273.2 115.4 289.0 120.5C304.8 125.6 301.1 124.8 314.0 128.7C326.9 132.6 354.9 140.5 366.6 144.0C378.3 147.5 376.1 147.4 384.0 149.5C391.9 151.6 404.2 154.5 414.0 156.5C423.8 158.5 437.8 160.7 442.5 161.5" stroke="#0a9f66" stroke-width="5.5"/>
<path d="M135.0 77.0C141.2 78.2 155.0 79.6 172.0 84.5C189.0 89.4 213.1 98.8 236.8 106.5C260.5 114.2 292.4 124.4 314.0 131.0C335.6 137.6 354.9 142.6 366.6 146.0C378.3 149.4 376.1 149.5 384.0 151.5C391.9 153.5 404.2 156.3 414.0 158.0C423.8 159.7 437.8 160.9 442.5 161.5" stroke="#0a9f66" stroke-width="4.5"/>
<path d="M154.0 68.0C157.3 69.0 160.2 69.0 174.0 74.0C187.8 79.0 213.5 89.6 236.8 98.0C260.1 106.4 289.5 116.3 314.0 124.5C338.5 132.7 362.6 140.8 384.0 147.0C405.4 153.2 432.8 159.1 442.5 161.5" stroke="#0a9f66" stroke-width="3.0"/>
<path d="M184.8 57.4L238.7 81.1L291.2 103.4L315.5 115.5L367.8 134.0L385.1 141.2L404.7 149.3L419.8 155.6L436.3 162.8L435.7 164.2L418.8 158.4L403.3 153.3L382.9 147.2L365.4 141.0L312.5 123.5L287.6 111.6L234.9 89.9L181.2 65.6Z" fill="#f7e600" stroke="none"/>
<path d="M184.8 57.4L238.7 81.1L291.2 103.4L315.5 115.5L367.8 134.0L385.1 141.2L404.7 149.3L419.8 155.6L436.3 162.8" stroke="#0a9f66" stroke-width="1.6"/>
<path d="M170.0 79.0C167.7 79.8 160.3 82.8 156.0 84.0C151.7 85.2 147.1 85.2 144.0 86.5C140.9 87.8 139.1 89.3 137.5 92.0C135.9 94.7 135.1 97.1 134.5 102.5C133.9 107.9 133.1 116.9 133.7 124.5C134.3 132.1 135.9 141.0 138.0 147.9C140.1 154.8 142.5 160.2 146.0 166.0C149.5 171.8 154.8 177.7 159.0 183.0C163.2 188.3 165.2 192.4 171.3 198.0C177.5 203.6 189.1 212.3 195.9 216.5C202.7 220.7 207.7 221.8 212.3 223.0C216.9 224.2 221.6 223.6 223.5 223.7" stroke="#0a9f66" stroke-width="2.6"/>
<path d="M170.0 80.0C168.0 80.8 161.8 83.8 158.0 85.0C154.2 86.2 150.4 86.2 147.5 87.5C144.6 88.8 142.2 90.5 140.5 93.0C138.8 95.5 138.0 97.2 137.6 102.5C137.2 107.8 137.1 116.9 138.0 124.5C138.9 132.1 141.0 141.0 143.2 147.9C145.4 154.8 147.7 160.3 151.0 166.0C154.3 171.7 159.2 176.9 163.0 182.0C166.8 187.1 168.2 191.2 174.0 196.5C179.8 201.8 191.0 209.9 197.5 214.0C204.0 218.1 208.7 219.5 213.0 221.0C217.3 222.5 221.8 222.7 223.5 223.0" stroke="#0a9f66" stroke-width="2.4"/>
<path d="M172.0 82.0C170.7 82.8 166.8 85.8 164.0 87.0C161.2 88.2 157.7 88.2 155.0 89.5C152.3 90.8 149.6 92.8 148.0 95.0C146.4 97.2 145.5 97.6 145.4 102.5C145.3 107.4 145.8 116.9 147.6 124.5C149.4 132.1 152.9 141.0 156.0 147.9C159.1 154.8 162.8 161.7 166.0 166.0C169.2 170.3 170.0 169.2 175.0 173.5C180.0 177.8 188.3 185.8 195.9 192.0C203.5 198.2 211.9 204.9 220.4 210.4C228.9 215.8 239.5 221.6 247.0 224.7C254.5 227.8 260.9 228.4 265.5 229.2C270.1 230.0 273.2 229.4 274.7 229.4" stroke="#0a9f66" stroke-width="2.6"/>
<path d="M172.0 82.0C170.2 82.7 164.4 84.9 161.0 86.0C157.6 87.1 154.2 87.2 151.5 88.5C148.8 89.8 146.1 91.7 144.5 94.0C142.9 96.3 142.0 97.4 141.8 102.5C141.6 107.6 141.8 116.9 143.2 124.5C144.6 132.1 147.7 141.0 150.5 147.9C153.3 154.8 156.0 161.2 160.0 166.0C164.0 170.8 167.5 171.3 174.5 177.0C181.5 182.7 193.0 192.9 202.0 200.0C211.0 207.1 219.4 214.3 228.6 219.6C237.8 224.9 248.9 229.3 257.3 231.9C265.7 234.5 275.2 234.8 278.8 235.4" stroke="#0a9f66" stroke-width="2.6"/>
<path d="M167.0 55.0C166.3 56.2 163.9 59.5 163.0 62.0C162.1 64.5 161.7 68.8 161.4 70.2" stroke="#e9474f" stroke-width="1.8"/>
<path d="M169.5 55.0C168.9 56.2 166.8 59.3 166.0 62.0C165.2 64.7 164.8 69.5 164.5 71.0" stroke="#e9474f" stroke-width="1.8"/>
<path d="M166.6 72.5C168.2 71.8 172.6 69.5 176.0 68.5C179.4 67.5 185.2 66.8 187.0 66.5" stroke="#0a9f66" stroke-width="5.5"/>
<path d="M442.5 161.5C445.9 155.2 456.1 133.9 463.0 123.9C469.9 113.9 474.7 111.0 484.0 101.4C493.3 91.8 508.8 75.7 519.0 66.4C529.2 57.1 537.1 51.6 545.2 45.5C553.4 39.4 561.5 33.2 567.9 29.7C574.3 26.2 580.0 25.1 583.7 24.5C587.4 23.9 588.6 24.9 590.0 25.8C591.4 26.7 591.5 29.3 591.8 30.0" stroke="#0a9f66" stroke-width="3.2"/>
<path d="M442.5 161.5C449.4 156.2 470.2 138.4 484.0 130.0C497.8 121.5 511.4 117.1 525.0 110.8C538.6 104.5 552.3 97.9 565.9 92.4C579.5 86.8 595.3 81.1 606.4 77.5C617.5 73.9 626.2 72.1 632.6 70.8C639.0 69.5 641.7 69.5 644.8 69.6C647.9 69.8 649.9 70.7 651.0 71.7C652.1 72.7 651.4 74.9 651.5 75.5" stroke="#0a9f66" stroke-width="2.5"/>
<path d="M442.5 161.5C449.4 156.8 470.2 141.3 484.0 133.5C497.8 125.7 512.5 119.6 525.0 114.9C537.5 110.1 550.9 107.4 559.2 105.0C567.5 102.6 570.0 101.7 574.9 100.5C579.8 99.3 585.4 98.4 588.9 98.0C592.4 97.6 594.7 98.0 595.9 98.0" stroke="#0a9f66" stroke-width="2.5"/>
<path d="M442.5 161.5C452.8 155.8 486.9 135.4 504.0 127.0C521.1 118.5 534.6 114.2 545.4 110.8C556.2 107.4 562.7 107.4 569.0 106.5C575.3 105.6 580.9 105.8 583.3 105.7" stroke="#0a9f66" stroke-width="2.5"/>
<path d="M442.5 161.5C451.1 157.1 479.6 141.5 494.0 135.0C508.4 128.5 518.5 125.3 529.0 122.5C539.5 119.7 552.1 118.8 556.7 118.0" stroke="#0a9f66" stroke-width="2.5"/>
<path d="M450.0 158.0C453.2 155.2 462.4 146.2 469.0 141.0C475.6 135.8 486.0 129.0 489.4 126.6" stroke="#e9474f" stroke-width="2.2"/>
<path d="M442.5 161.5C448.6 158.5 467.3 149.2 479.0 143.5C490.7 137.8 507.1 130.2 512.7 127.5" stroke="#0a9f66" stroke-width="7.0"/>
<path d="M457.9 155.5C462.2 153.7 474.6 147.8 484.0 144.6C493.4 141.4 506.5 138.1 514.0 136.2C521.5 134.3 525.3 133.7 529.0 133.0C532.7 132.3 535.0 132.4 536.2 132.3" stroke="#e9474f" stroke-width="2.0"/>
<path d="M442.5 161.5C449.4 159.2 468.6 151.3 484.0 147.6C499.4 143.9 519.9 141.5 535.2 139.5C550.6 137.5 564.2 136.2 576.1 135.4C588.0 134.6 600.3 134.8 606.8 134.8C613.3 134.8 613.2 135.1 615.0 135.6C616.8 136.1 617.1 137.6 617.5 138.0" stroke="#0a9f66" stroke-width="2.5"/>
<path d="M442.5 161.5C449.4 160.9 466.9 159.2 484.0 157.9C501.1 156.6 527.1 154.5 545.4 153.8C563.7 153.1 581.0 153.3 594.0 153.5C607.0 153.7 618.3 154.6 623.2 154.8" stroke="#0a9f66" stroke-width="2.5"/>
<path d="M442.5 163.0C449.4 164.4 463.8 167.5 484.0 171.2C504.2 174.9 543.2 181.2 564.0 185.0C584.8 188.8 601.2 192.7 608.7 194.2" stroke="#0a9f66" stroke-width="8.0"/>
<path d="M442.5 161.5C453.4 165.9 487.6 180.9 507.9 188.0C528.1 195.1 554.6 201.2 564.0 203.9" stroke="#0a9f66" stroke-width="2.5"/>
<path d="M442.5 161.5C446.1 164.8 454.6 173.9 464.0 181.0C473.4 188.1 485.7 196.3 499.0 203.9C512.3 211.5 536.3 222.9 543.8 226.7" stroke="#0a9f66" stroke-width="2.5"/>
<path d="M442.5 161.5C443.1 164.7 444.8 175.2 445.9 180.6C447.0 186.0 447.5 189.8 449.0 194.0C450.5 198.2 454.1 203.8 455.1 205.7" stroke="#0a9f66" stroke-width="2.5"/>
<path d="M442.5 161.5C440.7 164.0 435.0 168.9 431.6 176.5C428.2 184.1 424.2 198.7 422.3 207.2C420.4 215.7 420.1 222.5 420.3 227.6C420.6 232.7 423.2 236.2 423.8 237.9" stroke="#0a9f66" stroke-width="2.5"/>
<path d="M433.6 178.5C431.9 182.6 426.5 193.8 423.4 203.0C420.3 212.2 416.7 225.9 415.2 233.8C413.7 241.7 414.1 246.6 414.2 250.2C414.2 253.8 414.8 254.3 415.5 255.5C416.2 256.7 418.0 257.2 418.5 257.5" stroke="#e9474f" stroke-width="1.6"/>
<path d="M442.5 161.5C439.6 164.0 430.6 168.9 425.4 176.5C420.1 184.1 414.8 197.0 411.0 207.2C407.2 217.4 404.6 228.3 402.9 237.9C401.2 247.4 400.8 258.6 400.8 264.5C400.8 270.4 401.8 271.1 403.0 273.0C404.2 274.9 407.2 275.3 408.0 275.8" stroke="#0a9f66" stroke-width="3.0"/>
<path d="M442.5 161.5C438.9 165.1 427.3 173.7 421.0 183.0C414.7 192.3 408.4 206.6 404.9 217.4C401.4 228.2 401.0 237.8 399.8 248.0C398.6 258.2 398.1 270.8 397.8 278.8C397.5 286.8 397.4 291.1 397.8 296.0C398.2 300.9 399.0 305.2 400.0 308.0C401.0 310.8 402.3 311.7 404.0 312.5C405.7 313.3 409.0 312.9 410.0 313.0" stroke="#0a9f66" stroke-width="3.0"/>
<path d="M442.5 161.5C440.5 157.3 432.2 143.3 430.7 136.2C429.2 129.0 432.3 123.9 433.3 118.6C434.3 113.3 434.9 108.7 436.8 104.6C438.7 100.5 443.4 95.8 444.7 94.0" stroke="#0a9f66" stroke-width="2.2"/>
<path d="M442.5 161.5C442.0 157.3 439.3 144.8 439.4 136.2C439.5 127.6 441.2 116.6 443.0 109.9C444.8 103.2 448.8 98.5 450.0 96.2" stroke="#0a9f66" stroke-width="2.2"/>
<path d="M343.0 152.8C351.3 153.5 376.4 155.8 393.0 157.2C409.6 158.6 434.2 160.8 442.5 161.5" stroke="#0a9f66" stroke-width="2.5"/>
<path d="M608.7 194.2C611.8 191.9 620.8 185.8 627.3 180.4C633.8 175.0 641.7 169.1 647.8 162.0C653.9 154.9 659.3 145.7 664.0 138.0C668.7 130.3 673.2 121.3 676.0 116.0C678.8 110.7 679.8 108.2 680.8 106.0C681.8 103.8 682.2 102.9 682.3 103.0C682.4 103.1 681.5 105.9 681.3 106.5" stroke="#0a9f66" stroke-width="2.5"/>
<path d="M608.7 194.2C610.4 191.6 615.2 185.1 619.0 178.4C622.8 171.7 628.2 161.7 631.4 153.8C634.6 145.9 636.3 137.8 638.0 131.0C639.7 124.2 641.0 115.8 641.6 112.8" stroke="#0a9f66" stroke-width="2.8"/>
<path d="M608.7 194.2C610.1 189.5 614.8 173.2 617.0 166.0C619.2 158.8 620.8 154.7 622.0 151.0C623.2 147.3 623.8 144.8 624.2 143.6" stroke="#0a9f66" stroke-width="2.5"/>
<path d="M608.7 194.2C608.2 190.3 606.7 178.2 605.5 171.0C604.3 163.8 602.3 154.1 601.7 150.7" stroke="#0a9f66" stroke-width="2.5"/>
<path d="M608.7 194.2C606.3 190.2 599.2 178.1 594.5 170.2C589.8 162.3 582.6 150.5 580.2 146.6" stroke="#0a9f66" stroke-width="2.5"/>
<path d="M608.7 194.2C602.2 189.8 582.6 176.4 570.0 168.1C557.4 159.8 539.2 148.5 533.1 144.6" stroke="#0a9f66" stroke-width="2.5"/>
<path d="M608.7 194.2C599.2 191.3 568.5 181.4 551.7 176.7C534.9 172.0 515.2 167.9 507.9 166.2" stroke="#0a9f66" stroke-width="2.5"/>
<path d="M608.7 194.2C602.1 195.5 583.0 200.0 569.0 202.0C555.0 204.0 531.9 205.3 524.5 206.0" stroke="#0a9f66" stroke-width="2.5"/>
<path d="M608.7 194.5C599.2 196.7 570.0 203.5 551.7 207.4C533.4 211.3 507.8 216.2 499.0 218.0" stroke="#0a9f66" stroke-width="2.5"/>
</g>
</svg>
<div class="abs" style="left:8px;top:6px;width:112px;height:24px;background:#fff;border:1px solid #dcdcdc;border-radius:3px;font-size:8.9px;line-height:22px;color:#333;padding-left:8px;white-space:nowrap">Contract Percentage<span style="position:absolute;left:95px;top:9.5px;width:0;height:0;border-left:3.2px solid transparent;border-right:3.2px solid transparent;border-top:3.4px solid #555"></span></div>
<div class="abs" style="left:8px;top:36px;width:65px;height:58px;background:#fff"></div>
<div class="abs" style="left:19px;top:46px;width:43px;height:16px;border-radius:3px;background:#10a86a;color:#fff;font-size:7.6px;font-weight:bold;line-height:16px;text-align:center">&#8805; 90%</div>
<div class="abs" style="left:19px;top:68px;width:43px;height:15px;border-radius:3px;background:#f1404f;color:#fff;font-size:7.6px;font-weight:bold;line-height:15px;text-align:center">&lt; 90%</div>
<svg class="abs" style="left:2px;top:353px" width="70" height="17" viewBox="0 0 70 17"><circle cx="8.8" cy="9" r="6.3" fill="#fff" stroke="#9a9a9a" stroke-width="1.1"/><path d="M6.3 11.6c1.2-3.6 3.6-5.6 6-5.2.5 2.4-1.6 4.6-6 5.2z" fill="#b5b5b5"/><circle cx="10" cy="8.2" r="1.1" fill="#fff"/><text x="19" y="13.2" font-family="Liberation Sans, sans-serif" font-weight="bold" font-size="11.4" letter-spacing="-0.2" fill="#fff" stroke="#9a9a9a" stroke-width="1.6" paint-order="stroke" stroke-linejoin="round">mapbox</text></svg>
</div>
</div>

<!-- PANEL -->
<div id="panel" class="abs" style="left:797px;top:314px;width:336px;height:370px;background:#fff;overflow:hidden"><div id="ph" class="abs"><svg style="position:absolute;left:92px;top:13px" width="17" height="13" viewBox="0 0 17 13"><path d="M1.8 6.3V1.6h13.6v5.2" fill="none" stroke="#1b74da" stroke-width="1.2"/><path d="M9.2 4.3v5.8M6.7 5.75l5 2.9M6.7 8.65l5-2.9" stroke="#1b74da" stroke-width="1.5" stroke-linecap="round"/><circle cx="9.2" cy="7.2" r="1.9" fill="#1b74da"/></svg><div class="tx" style="left:112px">Pasco, WA</div><svg style="position:absolute;left:169px;top:14px" width="13" height="9" viewBox="0 0 13 9"><path d="M1 4.5h10M8 1.6l3 2.9-3 2.9" fill="none" stroke="#1b74da" stroke-width="1.4" stroke-linejoin="round" stroke-linecap="round"/></svg><div class="tx" style="left:185px">Topeka, KS</div></div>
<div id="tabs" class="abs"><div class="c">Carriers</div><div class="n">Tenders</div><div class="u"></div></div>
<div id="list" class="abs"><div class="abs cc" style="top:16px"><div class="nm">Ryan Fleet</div><div class="as">Asset</div><div class="vw">View</div><div class="hr"></div><div class="k" style="left:11px;top:73px">$172,958</div><div class="l" style="left:11px;top:86px">Total Spend</div><div class="k" style="left:106px;top:73px">43</div><div class="l" style="left:106px;top:86px">Total Volume</div><div class="k" style="left:201px;top:73px">$4,022</div><div class="l" style="left:201px;top:86px">Contract Avg</div><div class="k" style="left:11px;top:100px">$3,467</div><div class="l" style="left:11px;top:113px">Market Avg</div><div class="k" style="left:106px;top:100px">97%</div><div class="l" style="left:106px;top:113px">On-Time pickup</div><div class="k" style="left:201px;top:100px">97%</div><div class="l" style="left:201px;top:113px">Delivery Appointment</div></div><div class="abs cc" style="top:163px;height:137px"><div class="nm">Nick Freight</div><div class="as">Asset</div><div class="vw">View</div><div class="hr"></div><div class="k" style="left:11px;top:73px">$111,335</div><div class="l" style="left:11px;top:86px">Total Spend</div><div class="k" style="left:106px;top:73px">27</div><div class="l" style="left:106px;top:86px">Total Volume</div><div class="k" style="left:201px;top:73px">$4,124</div><div class="l" style="left:201px;top:86px">Contract Avg</div><div class="k" style="left:11px;top:100px">$3,467</div><div class="l" style="left:11px;top:113px">Market Avg</div><div class="k" style="left:106px;top:100px">100%</div><div class="l" style="left:106px;top:113px">On-Time pickup</div><div class="k" style="left:201px;top:100px">96%</div><div class="l" style="left:201px;top:113px">Delivery Appointment</div></div></div>
<div id="track" class="abs"></div><div id="thumb" class="abs"></div></div>
</body>
</html>
